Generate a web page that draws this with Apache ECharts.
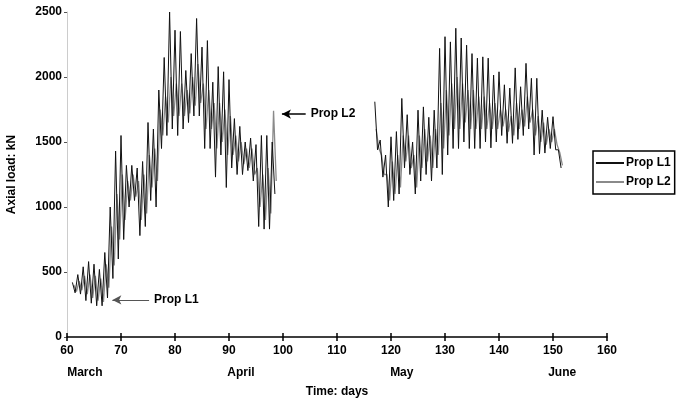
<!DOCTYPE html>
<html>
<head>
<meta charset="utf-8">
<script src="https://cdn.jsdelivr.net/npm/echarts@6/dist/echarts.min.js"></script>
<style>
  html, body { margin: 0; padding: 0; background: #fff; }
  #graphics { width: 677px; height: 400px; }
</style>
</head>
<body>
<div id="graphics"></div>
<script>
// March - April records (day number, daily high / low in kN)
const days1 = [61, 62, 63, 64, 65, 66, 67, 68, 69, 70, 71, 72, 73, 74, 75, 76, 77, 78, 79, 80,
               81, 82, 83, 84, 85, 86, 87, 88, 89, 90, 91, 92, 93, 94, 95, 96, 97, 98];
const l1High1 = [420, 480, 540, 580, 560, 520, 650, 1000, 1430, 1550, 1320, 1320, 1300, 1350, 1650, 1600, 1900, 2150, 2500, 2360,
                 2350, 2050, 2180, 2450, 2230, 2280, 1960, 2080, 2040, 1980, 1680, 1620, 1500, 1530, 1480, 1550, 1550, 1500];
const l1Low1 = [340, 330, 280, 260, 240, 240, 300, 450, 600, 750, 1000, 1050, 780, 850, 1050, 1000, 1450, 1550, 1600, 1550,
                1600, 1650, 1700, 1700, 1450, 1450, 1230, 1400, 1150, 1300, 1250, 1250, 1280, 1200, 850, 830, 830, 1100];
const l2High1 = [400, 430, 470, 480, 470, 450, 560, 850, 1100, 1250, 1200, 1250, 1200, 1250, 1400, 1450, 1750, 1850, 2000, 1950,
                 1950, 1900, 2000, 2100, 1950, 1900, 1800, 1800, 1750, 1700, 1550, 1500, 1450, 1450, 1300, 1250, 1300, 1740];
const l2Low1 = [350, 360, 330, 300, 280, 270, 380, 550, 750, 900, 1050, 1080, 900, 950, 1150, 1200, 1550, 1650, 1700, 1700,
                1700, 1720, 1780, 1800, 1600, 1600, 1450, 1500, 1400, 1400, 1350, 1330, 1300, 1250, 1000, 900, 950, 1200];

// May - June records
const days2 = [117, 118, 119, 120, 121, 122, 123, 124, 125, 126, 127, 128, 129, 130, 131, 132, 133, 134,
               135, 136, 137, 138, 139, 140, 141, 142, 143, 144, 145, 146, 147, 148, 149, 150, 151];
const l1High2 = [1810, 1515, 1400, 1540, 1580, 1835, 1710, 1500, 1745, 1770, 1690, 1745, 2220, 2310, 2270, 2375, 2300, 2245,
                 2180, 2145, 2155, 2145, 2015, 2040, 1940, 1915, 2070, 1925, 2105, 1990, 1990, 1745, 1690, 1695, 1440];
const l1Low2 = [1440, 1230, 1000, 1050, 1100, 1300, 1250, 1100, 1200, 1250, 1200, 1300, 1250, 1400, 1450, 1450, 1500, 1450,
                1450, 1450, 1500, 1455, 1500, 1550, 1490, 1490, 1520, 1550, 1600, 1400, 1410, 1415, 1450, 1440, 1300];
const l2High2 = [1600, 1400, 1250, 1350, 1400, 1550, 1550, 1400, 1550, 1600, 1550, 1600, 1800, 1900, 1950, 2000, 1950, 1900,
                 1900, 1850, 1850, 1800, 1800, 1750, 1750, 1700, 1800, 1750, 1850, 1750, 1700, 1650, 1600, 1600, 1420];
const l2Low2 = [1450, 1250, 1050, 1100, 1150, 1350, 1300, 1150, 1300, 1350, 1300, 1400, 1450, 1550, 1600, 1600, 1650, 1600,
                1600, 1600, 1600, 1600, 1600, 1620, 1580, 1550, 1600, 1620, 1650, 1550, 1500, 1480, 1500, 1480, 1320];

// axis labels
const xTicks = [60, 70, 80, 90, 100, 110, 120, 130, 140, 150, 160];
const yTicks = [0, 500, 1000, 1500, 2000, 2500];
const monthDays = [63.3, 92.2, 122, 151.7];
const monthNames = ["March", "April", "May", "June"];

const font = "Liberation Sans, Arial, sans-serif";

// zig-zag: high then low inside each day
function zigzag(days, high, low, shift) {
    let pts = [];
    for (let i = 0; i < days.length; i++) {
        pts.push([days[i] + shift, high[i]]);
        pts.push([days[i] + shift + 0.5, low[i]]);
    }
    return pts;
}

var myChart = echarts.init(document.getElementById('graphics'));

var baseX = {
    type: 'value',
    min: xTicks[0],
    max: xTicks[xTicks.length - 1],
    interval: 10,
    position: 'bottom',
    splitLine: { show: false }
};

var arrowLabel = { show: true, color: '#000', fontFamily: font, fontWeight: 'bold', fontSize: 12, distance: 5 };

var option = {
    animation: false,
    backgroundColor: '#fff',
    grid: { left: 67, right: 70, top: 12, bottom: 63, outerBoundsMode: 'none' },
    legend: {
        orient: 'vertical',
        left: 593,
        top: 151,
        data: ['Prop L1', 'Prop L2'],
        icon: 'rect',
        itemWidth: 28,
        itemHeight: 2,
        itemGap: 7,
        padding: [6, 4, 6, 3],
        borderColor: '#000',
        borderWidth: 1.5,
        textStyle: { color: '#000', fontFamily: font, fontWeight: 'bold', fontSize: 12, padding: [0, 0, 0, -3] }
    },
    xAxis: [
        Object.assign({}, baseX, {
            name: 'Time: days',
            nameLocation: 'middle',
            nameGap: 49,
            nameTextStyle: { color: '#000', fontFamily: font, fontWeight: 'bold', fontSize: 12 },
            axisLine: { lineStyle: { color: '#000', width: 1.5 } },
            axisTick: { length: 4, lineStyle: { color: '#000', width: 1.5 } },
            axisLabel: { color: '#000', fontFamily: font, fontWeight: 'bold', fontSize: 12, margin: 8 }
        }),
        Object.assign({}, baseX, {
            axisLine: { show: false },
            axisTick: { inside: true, length: 4, lineStyle: { color: '#000', width: 1.5 } },
            axisLabel: { show: false }
        }),
        Object.assign({}, baseX, {
            offset: 22,
            axisLine: { show: false },
            axisTick: { show: false },
            axisLabel: {
                customValues: monthDays,
                color: '#000', fontFamily: font, fontWeight: 'bold', fontSize: 12, margin: 8,
                formatter: function (v) {
                    return monthNames[monthDays.indexOf(v)];
                }
            }
        })
    ],
    yAxis: {
        type: 'value',
        min: yTicks[0],
        max: yTicks[yTicks.length - 1],
        interval: 500,
        name: 'Axial load: kN',
        nameLocation: 'middle',
        nameGap: 49,
        nameTextStyle: { color: '#000', fontFamily: font, fontWeight: 'bold', fontSize: 12 },
        axisLine: { show: true, lineStyle: { color: '#ccc', width: 1 } },
        axisTick: { show: true, length: 3, lineStyle: { color: '#555' } },
        axisLabel: {
            color: '#000', fontFamily: font, fontWeight: 'bold', fontSize: 12, margin: 5,
            formatter: function (v) { return String(v); }
        },
        splitLine: { show: false }
    },
    series: [
        {
            name: 'Prop L2', type: 'line', showSymbol: false, symbol: 'none',
            color: '#8a8a8a', lineStyle: { width: 1.3, color: '#8a8a8a' },
            data: zigzag(days1, l2High1, l2Low1, 0.25),
            markLine: {
                silent: true, symbol: ['arrow', 'none'], symbolSize: [7, 9],
                lineStyle: { color: '#000', width: 1.5, type: 'solid' },
                label: Object.assign({ position: 'end', formatter: 'Prop L2' }, arrowLabel),
                data: [[{ coord: [99.8, 1715] }, { coord: [104.2, 1715] }]]
            }
        },
        {
            name: 'Prop L2', type: 'line', showSymbol: false, symbol: 'none',
            color: '#8a8a8a', lineStyle: { width: 1.3, color: '#8a8a8a' },
            data: zigzag(days2, l2High2, l2Low2, 0.25)
        },
        {
            name: 'Prop L1', type: 'line', showSymbol: false, symbol: 'none',
            color: '#111', lineStyle: { width: 1, color: '#111' },
            data: zigzag(days1, l1High1, l1Low1, 0),
            markLine: {
                silent: true, symbol: ['arrow', 'none'], symbolSize: [7, 9],
                lineStyle: { color: '#555', width: 1, type: 'solid' },
                label: Object.assign({ position: 'end', formatter: 'Prop L1' }, arrowLabel),
                data: [[{ coord: [68.4, 285] }, { coord: [75.2, 285] }]]
            }
        },
        {
            name: 'Prop L1', type: 'line', showSymbol: false, symbol: 'none',
            color: '#111', lineStyle: { width: 1, color: '#111' },
            data: zigzag(days2, l1High2, l1Low2, 0)
        }
    ]
};

myChart.setOption(option);
</script>
</body>
</html>
